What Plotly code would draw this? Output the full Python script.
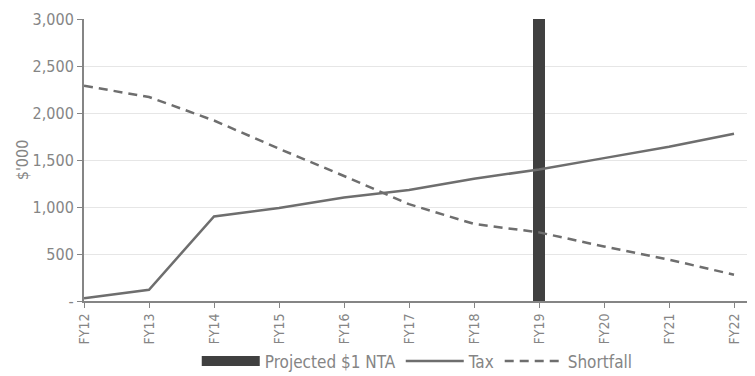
import plotly.graph_objects as go

years = ["FY12", "FY13", "FY14", "FY15", "FY16", "FY17", "FY18", "FY19", "FY20", "FY21", "FY22"]
tax = [30, 120, 900, 990, 1100, 1180, 1300, 1400, 1520, 1640, 1780]
shortfall = [2290, 2170, 1920, 1620, 1330, 1030, 820, 730, 580, 440, 280]
nta_year = ["FY19"]
nta_value = [3000]
y_ticks = [0, 500, 1000, 1500, 2000, 2500, 3000]
y_ticktext = ["-", "500", "1,000", "1,500", "2,000", "2,500", "3,000"]

FONT = "DejaVu Sans Condensed, Liberation Sans Narrow, sans-serif"
GRAY = "#858585"

fig = go.Figure()
fig.add_trace(go.Bar(x=nta_year, y=nta_value, name="Projected $1 NTA",
                     marker=dict(color="#404040", line=dict(width=0)),
                     width=0.18, showlegend=False))
# legend stand-in for the bar (wide block swatch)
fig.add_trace(go.Scatter(x=[None], y=[None], mode="lines", name="Projected $1 NTA",
                         line=dict(color="#404040", width=12)))
fig.add_trace(go.Scatter(x=years, y=tax, mode="lines", name="Tax",
                         line=dict(color="#6e6e6e", width=2.5), cliponaxis=False))
fig.add_trace(go.Scatter(x=years, y=shortfall, mode="lines", name="Shortfall",
                         line=dict(color="#6e6e6e", width=2.5, dash="9px,6px"), cliponaxis=False))

fig.update_layout(
    width=755, height=376,
    margin=dict(l=76, r=16, t=11, b=83),
    paper_bgcolor="white", plot_bgcolor="white",
    font=dict(family=FONT, color=GRAY, size=14),
    bargap=0,
    legend=dict(orientation="h", x=0.25, xanchor="left", xref="container",
                y=0.06, yanchor="middle", yref="container",
                font=dict(size=17, color=GRAY), itemwidth=58, tracegroupgap=0),
    xaxis=dict(type="category", categoryorder="array", categoryarray=years,
               range=[0, 10.2], tickangle=-90, showgrid=False, automargin=False,
               showline=True, linecolor=GRAY, linewidth=2,
               ticks="outside", ticklen=5, tickcolor=GRAY, tickwidth=1,
               tickfont=dict(size=14, color=GRAY)),
    yaxis=dict(range=[0, 3000], tickvals=y_ticks, ticktext=y_ticktext, automargin=False,
               showgrid=True, gridcolor="#e6e6e6", gridwidth=1,
               showline=True, linecolor=GRAY, linewidth=2,
               ticks="outside", ticklen=5, tickcolor=GRAY, tickwidth=1,
               zeroline=False, tickfont=dict(size=16, color=GRAY),
               title=dict(text="$'000", font=dict(size=16, color=GRAY), standoff=0)),
)

fig.write_html("out.html")
